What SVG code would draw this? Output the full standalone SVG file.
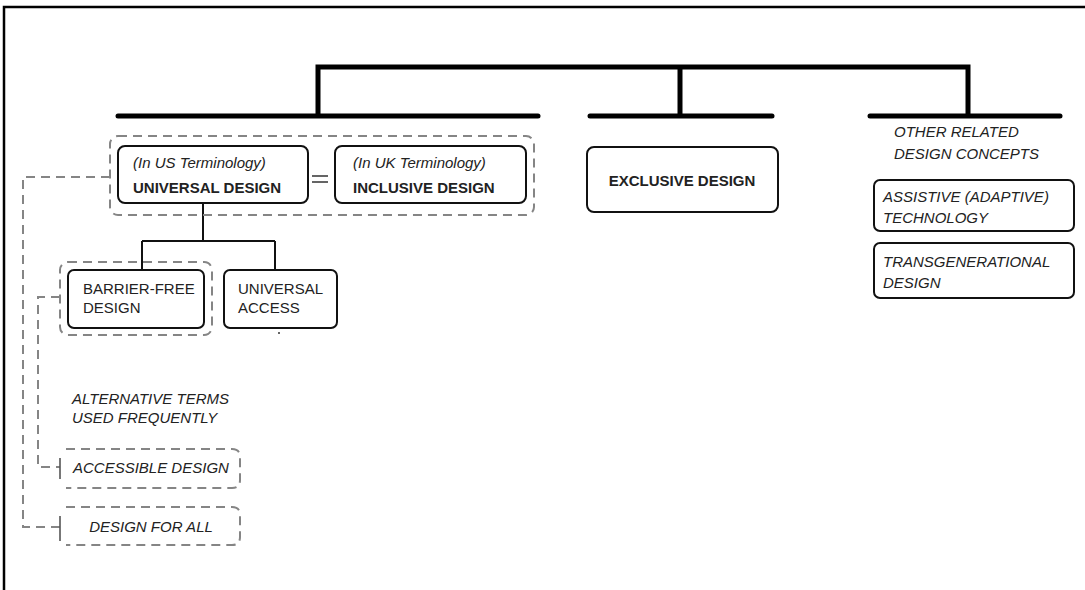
<svg xmlns="http://www.w3.org/2000/svg" width="1085" height="590" viewBox="0 0 1085 590">
<style>
.t{font-family:"Liberation Sans",Arial,sans-serif;font-size:15px;fill:#222}
.i{font-style:italic}
.b{font-weight:bold}
.box{fill:#fff;stroke:#111;stroke-width:2}
.dash{fill:none;stroke:#858585;stroke-width:2;stroke-dasharray:9 6}
.bus{fill:none;stroke:#000;stroke-width:5;stroke-linecap:round}
.ln{fill:none;stroke:#111;stroke-width:2}
.tick{fill:none;stroke:#555;stroke-width:1.6}
</style>
<rect width="1085" height="590" fill="#fff"/>
<path d="M4,590 V7 H1085" fill="none" stroke="#000" stroke-width="2.5"/>
<g id="connectors">
<path class="bus" d="M318,116 V67 H968 V116" style="stroke-linecap:butt"/>
<path class="bus" d="M680,67 V116" style="stroke-linecap:butt"/>
<path class="bus" d="M118,116 H538"/>
<path class="bus" d="M590,116 H772"/>
<path class="bus" d="M870,116 H1060"/>
<path class="ln" d="M203,203 V241 M142,241 H275 M142,241 V270 M275,241 V270"/>
<path class="dash" d="M110,177 H23 V527 H60"/>
<path class="dash" d="M60,297 H38 V467 H60"/>
<path d="M312,176 H328 M312,182 H328" stroke="#333" stroke-width="1.6"/>
<circle cx="279" cy="333" r="1" fill="#333"/>
</g>
<g id="group-universal-inclusive">
<rect class="dash" x="110" y="136" width="424" height="79" rx="8"/>
</g>
<g id="node-universal">
<rect class="box" x="118" y="146" width="190" height="57" rx="7"/>
<text class="t i" x="133" y="168">(In US Terminology)</text>
<text class="t b" x="133" y="193">UNIVERSAL DESIGN</text>
</g>
<g id="node-inclusive">
<rect class="box" x="335" y="146" width="191" height="57" rx="7"/>
<text class="t i" x="353" y="168">(In UK Terminology)</text>
<text class="t b" x="353" y="193">INCLUSIVE DESIGN</text>
</g>
<g id="node-exclusive">
<rect class="box" x="587" y="147" width="191" height="65" rx="7"/>
<text class="t b" x="682" y="186" text-anchor="middle">EXCLUSIVE DESIGN</text>
</g>
<g id="node-other">
<text class="t i" x="894" y="137">OTHER RELATED</text>
<text class="t i" x="894" y="159">DESIGN CONCEPTS</text>
</g>
<g id="node-assistive">
<rect class="box" x="874" y="180" width="200" height="51" rx="6"/>
<text class="t i" x="883" y="202">ASSISTIVE (ADAPTIVE)</text>
<text class="t i" x="883" y="223">TECHNOLOGY</text>
</g>
<g id="node-transgenerational">
<rect class="box" x="874" y="243" width="200" height="55" rx="6"/>
<text class="t i" x="883" y="267">TRANSGENERATIONAL</text>
<text class="t i" x="883" y="288">DESIGN</text>
</g>
<g id="node-barrier-free">
<rect class="dash" x="60" y="262" width="152" height="73" rx="8"/>
<rect class="box" x="68" y="270" width="136" height="58" rx="6"/>
<text class="t" x="83" y="294">BARRIER-FREE</text>
<text class="t" x="83" y="313">DESIGN</text>
</g>
<g id="node-universal-access">
<rect class="box" x="224" y="270" width="113" height="58" rx="6"/>
<text class="t" x="238" y="294">UNIVERSAL</text>
<text class="t" x="238" y="313">ACCESS</text>
</g>
<g id="node-alternative">
<text class="t i" x="72" y="404">ALTERNATIVE TERMS</text>
<text class="t i" x="72" y="423">USED FREQUENTLY</text>
</g>
<g id="node-accessible">
<path class="dash" d="M66,449 H232 Q240,449 240,457 V480 Q240,488 232,488 H66"/>
<path class="tick" d="M60,458 V479"/>
<text class="t i" x="73" y="473">ACCESSIBLE DESIGN</text>
</g>
<g id="node-design-for-all">
<path class="dash" d="M66,507 H232 Q240,507 240,515 V537 Q240,545 232,545 H66"/>
<path class="tick" d="M60,516 V541"/>
<text class="t i" x="151" y="532" text-anchor="middle">DESIGN FOR ALL</text>
</g>
</svg>
